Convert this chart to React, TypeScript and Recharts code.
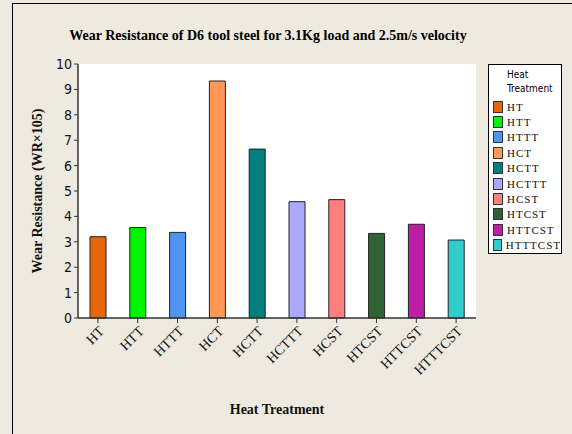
import React from 'react';
import { BarChart, Bar, XAxis, YAxis, Cell, CartesianGrid } from 'recharts';

const treatments = ['HT', 'HTT', 'HTTT', 'HCT', 'HCTT', 'HCTTT', 'HCST', 'HTCST', 'HTTCST', 'HTTTCST'];
const wearResistance = [3.2, 3.56, 3.37, 9.33, 6.65, 4.58, 4.66, 3.33, 3.69, 3.07];
const barColors = ['#E8650C', '#00F400', '#4F94F0', '#FF9955', '#007F7F', '#ABA8FF', '#FF7F7F', '#2F6333', '#BE1EA6', '#33CCCC'];
const yTicks = [0, 1, 2, 3, 4, 5, 6, 7, 8, 9, 10];

const data = treatments.map((name, i) => ({ name, value: wearResistance[i] }));

const serif = "'Liberation Serif', 'Times New Roman', serif";
const narrow = "'Liberation Sans Narrow', 'DejaVu Sans Condensed', 'Liberation Sans', sans-serif";

// legend drawn beside the chart, as in the original figure
const LegendBox = () => (
  <div
    style={{
      position: 'absolute',
      left: 488,
      top: 64,
      width: 74,
      height: 190,
      border: '1px solid #000',
      background: '#fff',
      boxSizing: 'border-box',
      padding: '3px 0 0 4px',
    }}
  >
    <div style={{ fontFamily: narrow, fontSize: 10, marginLeft: 14, lineHeight: '14px' }}>Heat</div>
    <div style={{ fontFamily: narrow, fontSize: 10, marginLeft: 14, lineHeight: '14px', marginBottom: 3 }}>Treatment</div>
    {treatments.map((t, i) => (
      <div key={t} style={{ display: 'flex', alignItems: 'center', height: 15.4 }}>
        <span
          style={{
            width: 10,
            height: 12,
            background: barColors[i],
            border: '1px solid #333',
            boxSizing: 'border-box',
            marginRight: 4,
          }}
        />
        <span style={{ fontFamily: serif, fontSize: 11, letterSpacing: 1, color: '#111' }}>{t}</span>
      </div>
    ))}
  </div>
);

const App: React.FC = () => {
  return (
    <div style={{ position: 'absolute', left: 0, top: 0, width: 572, height: 434, background: '#EEEAE0', overflow: 'hidden' }}>
      <div style={{ position: 'absolute', left: 12, top: 3, width: 600, height: 500, borderLeft: '1.5px solid #000', borderTop: '1.5px solid #000' }} />
      <div
        style={{
          position: 'absolute',
          left: 60,
          width: 416,
          top: 28,
          textAlign: 'center',
          fontFamily: serif,
          fontWeight: 'bold',
          fontSize: 14,
        }}
      >
        Wear Resistance of D6 tool steel for 3.1Kg load and 2.5m/s velocity
      </div>
      <div style={{ position: 'absolute', left: 0, top: 0 }}>
        <BarChart width={572} height={434} data={data} margin={{ top: 64, right: 96, left: 48, bottom: 46 }} barSize={16}>
          <CartesianGrid horizontal={false} vertical={false} fill="#fff" />
          <XAxis
            dataKey="name"
            interval={0}
            height={70}
            tickSize={5}
            tickLine={{ stroke: '#333' }}
            axisLine={{ stroke: '#333', strokeWidth: 1.5 }}
            angle={-45}
            textAnchor="end"
            tick={{ fontFamily: serif, fontSize: 14, fill: '#111' }}
            label={{ value: 'Heat Treatment', position: 'insideBottom', offset: -26, fontFamily: serif, fontWeight: 'bold', fontSize: 14, fill: '#111' }}
          />
          <XAxis xAxisId="top" orientation="top" dataKey="name" height={0} tick={false} tickLine={false} axisLine={{ stroke: '#000', strokeWidth: 1.5 }} />
          <YAxis
            domain={[0, 10]}
            ticks={yTicks}
            interval={0}
            width={30}
            tickSize={4}
            tickLine={{ stroke: '#333' }}
            axisLine={{ stroke: '#333', strokeWidth: 1.5 }}
            tick={{ fontFamily: narrow, fontSize: 14, fill: '#111' }}
            label={{ value: 'Wear Resistance (WR×105)', angle: -90, position: 'insideLeft', offset: -11, fontFamily: serif, fontWeight: 'bold', fontSize: 14, fill: '#111', style: { textAnchor: 'middle' } }}
          />
          <YAxis yAxisId="right" orientation="right" domain={[0, 10]} width={0} tick={false} tickLine={false} axisLine={{ stroke: '#000', strokeWidth: 1.5 }} />
          <Bar dataKey="value" stroke="#222" strokeWidth={1} isAnimationActive={false}>
            {data.map((d, i) => (
              <Cell key={d.name} fill={barColors[i]} />
            ))}
          </Bar>
        </BarChart>
      </div>
      <LegendBox />
    </div>
  );
};

export default App;
